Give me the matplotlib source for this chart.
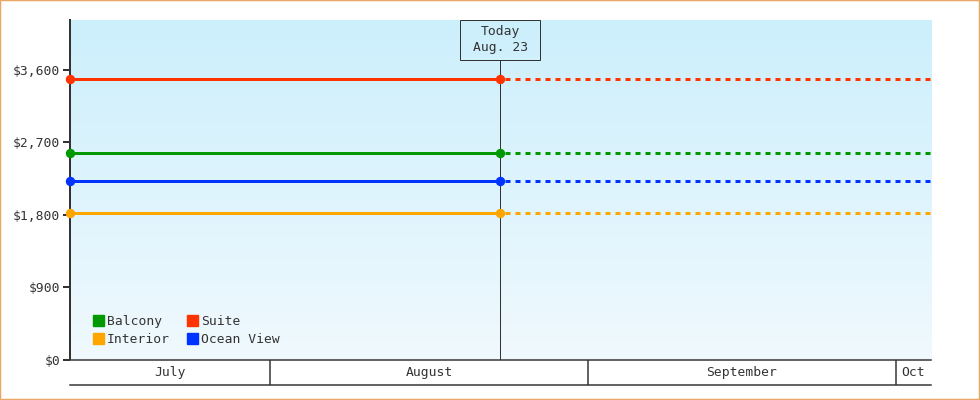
import numpy as np
import matplotlib
matplotlib.use("Agg")
import matplotlib.pyplot as plt
import matplotlib.dates as mdates
import matplotlib.transforms as mtransforms
from matplotlib.colors import LinearSegmentedColormap
from matplotlib.lines import Line2D
from matplotlib.patches import Rectangle
from datetime import datetime

# --- data -------------------------------------------------------------
series_names = ["Balcony", "Interior", "Suite", "Ocean View"]
series_colors = ["#009900", "#FFA500", "#FF3300", "#0033FF"]
# price at the start of the window and today (flat), then projected flat
series_values = [2575, 1830, 3490, 2227]

start_date = datetime(2019, 7, 12, 11)
today = datetime(2019, 8, 23, 11)
end_date = datetime(2019, 10, 4, 11)
today_label = "Today\nAug. 23"

month_starts = [datetime(2019, 7, 1), datetime(2019, 8, 1),
                datetime(2019, 9, 1), datetime(2019, 10, 1), datetime(2019, 11, 1)]
month_names = ["July", "August", "September", "Oct"]

y_ticks = [0, 900, 1800, 2700, 3600]
y_max = 4220

# --- style ------------------------------------------------------------
plt.rcParams["font.family"] = ["DejaVu Sans Mono"]
plt.rcParams["font.size"] = 9.4
dark = "#333333"
px = 72 / 100.0  # one pixel in points

fig = plt.figure(figsize=(9.8, 4.0), dpi=100)
W, H = 980.0, 400.0
ax = fig.add_axes([70 / W, 40 / H, 861 / W, 340 / H])
band = fig.add_axes([70 / W, 15 / H, 861 / W, 25 / H], sharex=ax)

# gradient background
cmap = LinearSegmentedColormap.from_list("bg", ["#F0F9FE", "#CCEFFC"])
grad = np.linspace(0, 1, 256).reshape(-1, 1)
ax.imshow(grad, cmap=cmap, aspect="auto", extent=[0, 1, 0, 1],
          transform=ax.transAxes, origin="lower", zorder=0)

for name, color, val in zip(series_names, series_colors, series_values):
    ax.plot([start_date, today], [val, val], color=color, lw=3 * px,
            marker="o", markersize=8 * px, clip_on=False, zorder=5,
            solid_capstyle="butt")
    ax.plot([today, end_date], [val, val], color=color, lw=3 * px,
            linestyle=(5 / 3, (5 / 3, 5 / 3)), zorder=4, dash_capstyle="butt")

# today marker line and box
ax.axvline(today, ymin=0, ymax=(340 - 40) / 340, color=dark, lw=1 * px, zorder=3)
trans = mtransforms.blended_transform_factory(ax.transData, ax.transAxes)
box_w = 80 / (861 / (end_date - start_date).days)  # 80 px in days
ax.add_patch(Rectangle((mdates.date2num(today) - box_w / 2, (340 - 40) / 340),
                       box_w, 40 / 340, transform=trans, facecolor="none",
                       edgecolor=dark, lw=1 * px, zorder=6, clip_on=False))
ax.text(today, 1 - 20 / 340, today_label, transform=trans, ha="center",
        va="center", color=dark, linespacing=1.3, zorder=7)

ax.set_xlim(start_date, end_date)
ax.set_ylim(0, y_max)
ax.set_yticks(y_ticks)
ax.set_yticklabels(["${:,}".format(v) for v in y_ticks])
ax.tick_params(axis="y", length=5, width=2 * px, color=dark, pad=2,
               labelcolor=dark)
ax.tick_params(axis="x", bottom=False, labelbottom=False)
for side in ["top", "right", "bottom"]:
    ax.spines[side].set_visible(False)
ax.spines["left"].set_color(dark)
ax.spines["left"].set_linewidth(2 * px)
ax.spines["left"].set_zorder(4)

# legend
handles = [Line2D([], [], linestyle="none", marker="s", markersize=11 * px,
                  markerfacecolor=c, markeredgecolor=c)
           for c in series_colors]
leg = ax.legend(handles, series_names, ncol=2, loc="lower left",
                bbox_to_anchor=(22 / 861, 14 / 340), frameon=False,
                handlelength=0.9, handletextpad=0.25, columnspacing=1.2,
                labelspacing=0.4, borderpad=0, borderaxespad=0)
for t in leg.get_texts():
    t.set_color(dark)

# month band
band.set_ylim(0, 1)
for d in month_starts[1:-1]:
    band.axvline(d, color=dark, lw=1.5 * px)
x0, x1 = mdates.date2num(start_date), mdates.date2num(end_date)
for i, name in enumerate(month_names):
    a = max(mdates.date2num(month_starts[i]), x0)
    b = min(mdates.date2num(month_starts[i + 1]), x1)
    band.text((a + b) / 2, 0.5, name, ha="center", va="center", color=dark)
band.set_yticks([])
band.tick_params(axis="x", bottom=False, labelbottom=False)
band.set_facecolor("white")
for side in ["left", "right"]:
    band.spines[side].set_visible(False)
for side in ["top", "bottom"]:
    band.spines[side].set_color(dark)
    band.spines[side].set_linewidth(1.5 * px)

# orange frame around the figure
fig.patches.append(Rectangle((0, 0), 1, 1, transform=fig.transFigure,
                             fill=False, edgecolor="#EBA865", lw=2.5 * px))

fig.savefig("out.png", dpi=100)
